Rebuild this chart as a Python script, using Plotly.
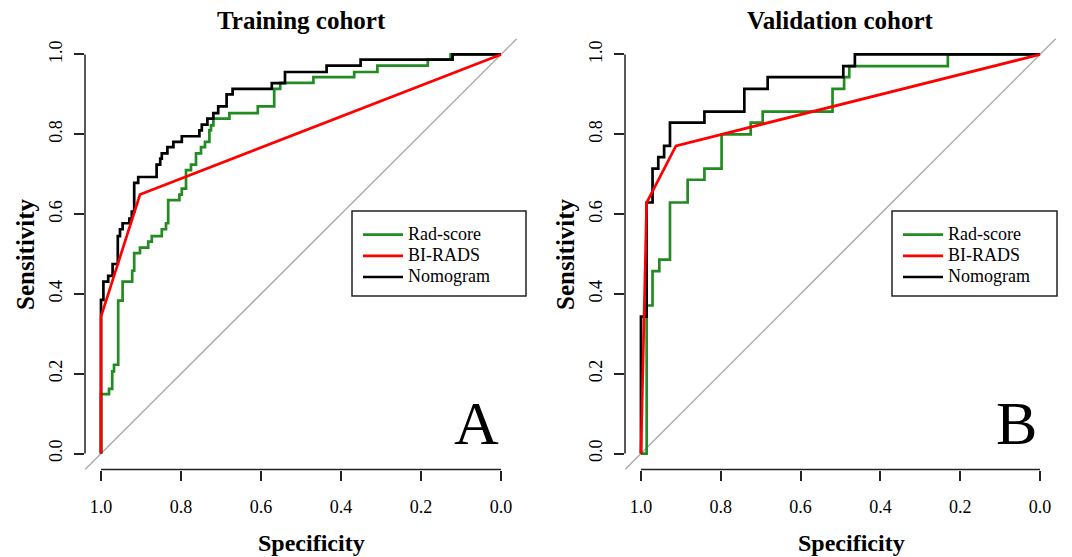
import plotly.graph_objects as go

# ---------------- data ----------------
# Training cohort – step curves given as corner points (vertical-then-horizontal steps)
train_rad_spec = [1, .98, .972, .9675, .957, .946, .922, .917, .9025, .882, .873, .848, .8375, .832, .804,
                  .798, .7875, .775, .7625, .75, .74, .729, .725, .719, .679, .608, .567, .552, .469, .367,
                  .309, .183, .126, 0]
train_rad_sens = [0, .149, .162, .206, .2225, .383, .431, .458, .502, .516, .531, .545, .562, .577, .635,
                  .649, .664, .71, .724, .752, .768, .781, .81, .8225, .839, .853, .87, .914, .929, .943,
                  .956, .972, .987, 1]

train_nomo_spec = [1, .994, .982, .971, .958, .9525, .946, .929, .923, .917, .907, .861, .852, .848, .834,
                   .819, .798, .754, .748, .734, .719, .707, .686, .671, .573, .54, .436, .351, .121, 0]
train_nomo_sens = [0, .385, .431, .445, .475, .545, .562, .577, .589, .606, .678, .693, .724, .739, .752,
                   .768, .781, .795, .81, .824, .839, .853, .87, .9, .914, .928, .956, .972, .987, 1]

train_bi_spec = [1, 1, .9025, 0]
train_bi_sens = [0, .343, .649, 1]

# Validation cohort
valid_rad_spec = [1, .9857, .971, .954, .9273, .883, .841, .798, .725, .695, .52, .491, .478, .231, 0]
valid_rad_sens = [0, 0, .371, .457, .486, .629, .686, .714, .8, .829, .857, .914, .943, .971, 1]

valid_nomo_spec = [1, .9857, .971, .9566, .942, .9273, .841, .741, .6825, .493, .464, 0]
valid_nomo_sens = [0, .343, .629, .714, .743, .771, .829, .857, .914, .943, .971, 1]

valid_bi_spec = [1, .9857, .9123, 0]
valid_bi_sens = [0, .629, .771, 1]

panel_titles = ["Training cohort", "Validation cohort"]
panel_letters = ["A", "B"]
series_names = ["Rad-score", "BI-RADS", "Nomogram"]
tick_vals = [1.0, 0.8, 0.6, 0.4, 0.2, 0.0]
tick_text = ["1.0", "0.8", "0.6", "0.4", "0.2", "0.0"]

# ---------------- styling ----------------
W, H = 1072, 557
FONT = "Liberation Serif"
GREEN, RED, BLACK, GREY = "#228B22", "#FF0000", "#000000", "#ADADAD"
PAD = 0.04
LW = 2.7


def px(x):
    return x / W


def py(y):
    return 1 - y / H


def legend_label(name):
    # rendered at 18px while the legend row spacing is computed from a smaller base size
    return f"<span style='font-size:18px'>{name}</span>"


fig = go.Figure()

panels = [
    dict(xa="x", ya="y", leg="legend",
         rad=(train_rad_spec, train_rad_sens), nomo=(train_nomo_spec, train_nomo_sens),
         bi=(train_bi_spec, train_bi_sens)),
    dict(xa="x2", ya="y2", leg="legend2",
         rad=(valid_rad_spec, valid_rad_sens), nomo=(valid_nomo_spec, valid_nomo_sens),
         bi=(valid_bi_spec, valid_bi_sens)),
]

for p in panels:
    # chance diagonal
    fig.add_trace(go.Scatter(x=[1 + PAD, -PAD], y=[-PAD, 1 + PAD], mode="lines",
                             line=dict(color=GREY, width=1.5), showlegend=False, hoverinfo="skip",
                             xaxis=p["xa"], yaxis=p["ya"]))
    fig.add_trace(go.Scatter(x=p["rad"][0], y=p["rad"][1], mode="lines", name=legend_label(series_names[0]),
                             line=dict(color=GREEN, width=LW, shape="vh"), legendrank=1,
                             legend=p["leg"], xaxis=p["xa"], yaxis=p["ya"]))
    fig.add_trace(go.Scatter(x=p["nomo"][0], y=p["nomo"][1], mode="lines", name=legend_label(series_names[2]),
                             line=dict(color=BLACK, width=LW, shape="vh"), legendrank=3,
                             legend=p["leg"], xaxis=p["xa"], yaxis=p["ya"]))
    fig.add_trace(go.Scatter(x=p["bi"][0], y=p["bi"][1], mode="lines", name=legend_label(series_names[1]),
                             line=dict(color=RED, width=LW), legendrank=2,
                             legend=p["leg"], xaxis=p["xa"], yaxis=p["ya"]))

ydom = [(H - 469.5) / H, (H - 38.5) / H]
xdoms = [[px(85), px(517)], [px(625), px(1056)]]

axis_common = dict(showgrid=False, zeroline=False, showline=False, ticks="outside", ticklen=10,
                   tickwidth=1.5, tickcolor="#222", tickvals=tick_vals, ticktext=tick_text,
                   tickfont=dict(family=FONT, size=18, color="black"), fixedrange=True)

fig.update_layout(
    xaxis=dict(domain=xdoms[0], range=[1 + PAD, -PAD], anchor="y", ticklabelstandoff=11, **axis_common),
    yaxis=dict(domain=ydom, range=[-PAD, 1 + PAD], anchor="x", tickangle=-90, ticklabelstandoff=5,
               **axis_common),
    xaxis2=dict(domain=xdoms[1], range=[1 + PAD, -PAD], anchor="y2", ticklabelstandoff=11, **axis_common),
    yaxis2=dict(domain=ydom, range=[-PAD, 1 + PAD], anchor="x2", tickangle=-90, ticklabelstandoff=5,
                **axis_common),
)

# axis lines spanning only 0..1 like base R
shapes = []
for xa, ya in [("x", "y"), ("x2", "y2")]:
    shapes.append(dict(type="line", xref=xa, x0=1, x1=0, yref=f"{ya} domain", y0=0, y1=0,
                       line=dict(color="#222", width=1.5)))
    shapes.append(dict(type="line", xref=f"{xa} domain", x0=0, x1=0, yref=ya, y0=0, y1=1,
                       line=dict(color="#222", width=1.5)))

# legend boxes
legend_boxes = [(352, 211, 526, 296), (892, 211, 1057, 296)]
for (x0, y0, x1, y1) in legend_boxes:
    shapes.append(dict(type="rect", xref="paper", yref="paper", x0=px(x0), x1=px(x1), y0=py(y1), y1=py(y0),
                       line=dict(color="#222", width=1.5), fillcolor="rgba(0,0,0,0)"))

legend_common = dict(font=dict(family=FONT, size=14, color="black"), bgcolor="rgba(0,0,0,0)",
                     borderwidth=0, itemwidth=40, xanchor="left", yanchor="top", tracegroupgap=0,
                     itemclick=False, itemdoubleclick=False)
fig.update_layout(
    legend=dict(x=px(358), y=py(219), **legend_common),
    legend2=dict(x=px(898), y=py(219), **legend_common),
)

annotations = []
title_centers = [301, 840.5]
xlab_centers = [311, 851]
for i in range(2):
    annotations.append(dict(text=panel_titles[i], x=px(title_centers[i]), y=py(20), xref="paper",
                            yref="paper", showarrow=False, xanchor="center", yanchor="middle",
                            font=dict(family=FONT, size=25, color="black", weight="bold")))
    annotations.append(dict(text="Specificity", x=px(xlab_centers[i]), y=0, xref="paper", yref="paper",
                            showarrow=False, xanchor="center", yanchor="bottom", borderpad=0,
                            font=dict(family=FONT, size=24, color="black", weight="bold")))
    annotations.append(dict(text="Sensitivity", x=px(25 + 540 * i), y=py(254), xref="paper", yref="paper",
                            showarrow=False, xanchor="center", yanchor="middle", textangle=-90,
                            font=dict(family=FONT, size=25, color="black", weight="bold")))
    annotations.append(dict(text=panel_letters[i], x=px(476 + 540 * i), y=py(423), xref="paper",
                            yref="paper", showarrow=False, xanchor="center", yanchor="middle",
                            font=dict(family=FONT, size=62, color="black")))

fig.update_layout(
    width=W, height=H, margin=dict(l=0, r=0, t=0, b=0),
    paper_bgcolor="white", plot_bgcolor="white",
    shapes=shapes, annotations=annotations, showlegend=True,
)

fig.write_html("out.html")
